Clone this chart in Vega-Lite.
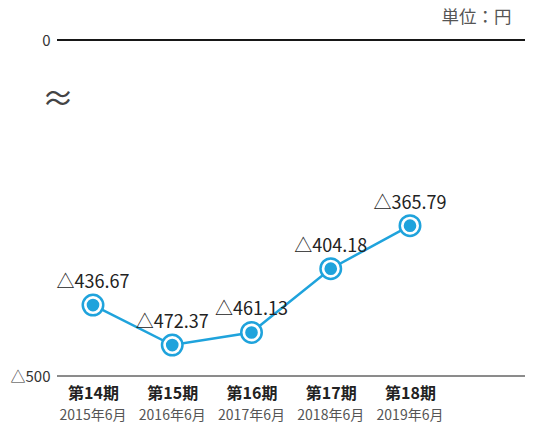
{
  "$schema": "https://vega.github.io/schema/vega-lite/v6.json",
  "width": 468,
  "height": 336,
  "autosize": {"type": "none"},
  "padding": {"left": 57, "top": 40, "right": 12, "bottom": 51},
  "background": "white",
  "title": {"text": "単位：円", "anchor": "end", "fontSize": 17.5, "fontWeight": "normal", "color": "#555555", "offset": 7, "dx": -14, "font": "Noto Sans CJK JP"},
  "config": {"view": {"stroke": null}, "font": "Noto Sans CJK JP"},
  "data": {"values": [
    {"period": "第14期", "date": "2015年6月", "value": -436.67, "label": "△436.67"},
    {"period": "第15期", "date": "2016年6月", "value": -472.37, "label": "△472.37"},
    {"period": "第16期", "date": "2017年6月", "value": -461.13, "label": "△461.13"},
    {"period": "第17期", "date": "2018年6月", "value": -404.18, "label": "△404.18"},
    {"period": "第18期", "date": "2019年6月", "value": -365.79, "label": "△365.79"}
  ]},
  "encoding": {
    "x": {"field": "period", "type": "ordinal", "sort": null,
      "scale": {"type": "point", "range": [36, 353], "padding": 0},
      "axis": {"title": null, "domain": false, "ticks": false, "labelAngle": 0, "labelFontSize": 16, "labelFontWeight": "bold", "labelColor": "#222222", "labelPadding": 9, "labelBaseline": "top"}},
    "y": {"field": "value", "type": "quantitative",
      "scale": {"domain": [-500, -200], "nice": false, "zero": false},
      "axis": {"title": null, "domain": false, "ticks": false, "grid": false, "values": [-500, -200], "labelExpr": "datum.value == -200 ? '0' : '△500'", "labelFontSize": 15, "labelColor": "#333333", "labelPadding": 7}}
  },
  "layer": [
    {"mark": {"type": "rule", "color": "#888888", "strokeWidth": 1}, "encoding": {"y": {"datum": -500}, "x": null}},
    {"mark": {"type": "rule", "color": "#111111", "strokeWidth": 1}, "encoding": {"y": {"datum": -200}, "x": null}},
    {"mark": {"type": "line", "color": "#1fa3dc", "strokeWidth": 2.5}},
    {"mark": {"type": "point", "shape": "circle", "filled": true, "fill": "white", "stroke": "#1fa3dc", "strokeWidth": 2.5, "size": 420, "opacity": 1}},
    {"mark": {"type": "point", "shape": "circle", "filled": true, "fill": "#1fa3dc", "strokeWidth": 0, "size": 160, "opacity": 1}},
    {"mark": {"type": "text", "fontSize": 18, "baseline": "alphabetic", "dy": -17, "color": "#222222"}, "encoding": {"text": {"field": "label"}}},
    {"mark": {"type": "text", "fontSize": 14, "baseline": "middle", "dy": 40, "color": "#555555"}, "encoding": {"text": {"field": "date"}, "y": {"datum": -500}}},
    {"transform": [{"filter": "datum.period == '第14期'"}], "mark": {"type": "text", "text": "≈", "fontSize": 32, "baseline": "middle", "dx": -35, "dy": 4, "color": "#444444"}, "encoding": {"y": {"datum": -250}}}
  ]
}
